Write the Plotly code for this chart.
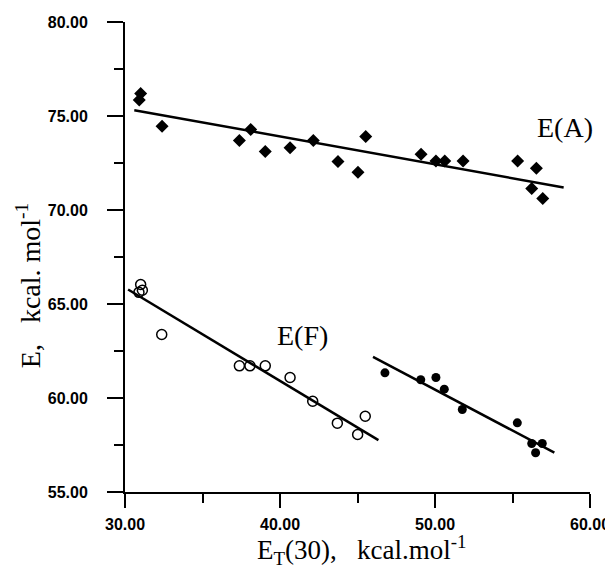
import plotly.graph_objects as go

# E(A) data (filled diamonds)
a_x = [30.92, 31.01, 32.39, 37.38, 38.11, 39.05, 40.65, 42.15, 43.74, 45.03, 45.53,
       49.10, 50.06, 50.63, 51.81, 55.33, 56.54, 56.24, 56.95]
a_y = [75.85, 76.20, 74.46, 73.70, 74.28, 73.11, 73.31, 73.70, 72.58, 72.01, 73.91,
       72.97, 72.60, 72.60, 72.60, 72.60, 72.22, 71.14, 70.61]
a_line_x = [30.6, 58.3]
a_line_y = [75.31, 71.20]

# E(F) data, open circles
f1_x = [31.01, 31.12, 30.90, 32.37, 37.38, 38.06, 39.05, 40.65, 42.11, 43.70, 45.01, 45.50]
f1_y = [66.04, 65.73, 65.62, 63.38, 61.71, 61.71, 61.71, 61.09, 59.83, 58.66, 58.06, 59.03]
f1_line_x = [30.2, 46.35]
f1_line_y = [65.77, 57.76]

# E(F) data, filled circles
f2_x = [46.77, 49.08, 50.06, 50.60, 51.76, 55.31, 56.24, 56.92, 56.49]
f2_y = [61.34, 60.97, 61.09, 60.47, 59.39, 58.68, 57.58, 57.58, 57.09]
f2_line_x = [46.0, 57.7]
f2_line_y = [62.19, 57.09]

x_ticks = [30, 40, 50, 60]
y_ticks = [55, 60, 65, 70, 75, 80]

serif = "Liberation Serif, Times New Roman, serif"
sans = "Liberation Sans, Arial, sans-serif"

fig = go.Figure()
line_style = dict(color="black", width=2.5)
fig.add_trace(go.Scatter(x=a_line_x, y=a_line_y, mode="lines", line=line_style, showlegend=False))
fig.add_trace(go.Scatter(x=f1_line_x, y=f1_line_y, mode="lines", line=line_style, showlegend=False))
fig.add_trace(go.Scatter(x=f2_line_x, y=f2_line_y, mode="lines", line=line_style, showlegend=False))

fig.add_trace(go.Scatter(x=a_x, y=a_y, mode="markers", showlegend=False,
                         marker=dict(symbol="diamond", size=10, color="black")))
fig.add_trace(go.Scatter(x=f1_x, y=f1_y, mode="markers", showlegend=False,
                         marker=dict(symbol="circle-open", size=10, color="black",
                                     line=dict(width=1.5, color="black"))))
fig.add_trace(go.Scatter(x=f2_x, y=f2_y, mode="markers", showlegend=False,
                         marker=dict(symbol="circle", size=9, color="black")))

fig.add_annotation(x=58.39, y=74.39, text="E(A)", showarrow=False,
                   font=dict(family=serif, size=28, color="black"))
fig.add_annotation(x=41.42, y=63.32, text="E(F)", showarrow=False,
                   font=dict(family=serif, size=28, color="black"))

# axis titles as positioned annotations
fig.add_annotation(xref="paper", yref="paper", x=0.5097, y=-0.124,
                   xanchor="center", yanchor="middle", showarrow=False,
                   text="E<sub>T</sub>(30),\u00a0\u00a0\u00a0kcal.mol<sup>-1</sup>",
                   font=dict(family=serif, size=27, color="black"))
fig.add_annotation(xref="paper", yref="paper", x=-0.2086, y=0.44,
                   xanchor="center", yanchor="middle", showarrow=False, textangle=-90,
                   text="E,\u00a0\u00a0\u00a0kcal.\u00a0mol<sup>-1</sup>",
                   font=dict(family=serif, size=28, color="black"))

# page body adds an 8px offset; compensate so the plot area lands at x 125-590, y 22-492
fig.update_layout(
    width=605, height=560,
    margin=dict(l=117, r=23, t=14, b=75.5),
    plot_bgcolor="white", paper_bgcolor="white",
)
fig.update_xaxes(
    range=[30, 60], tickvals=x_ticks, tickformat=".2f", automargin=False,
    showgrid=False, zeroline=False, showline=True, linecolor="black", linewidth=2,
    ticks="outside", ticklen=14, tickwidth=2, tickcolor="black", ticklabelstandoff=3,
    tickfont=dict(family=sans, size=16, color="black", weight="bold"),
    minor=dict(ticks="outside", ticklen=9, tickwidth=2, tickcolor="black", dtick=5, showgrid=False),
)
fig.update_yaxes(
    range=[55, 80], tickvals=y_ticks, tickformat=".2f", automargin=False,
    showgrid=False, zeroline=False, showline=True, linecolor="black", linewidth=2,
    ticks="outside", ticklen=16, tickwidth=2, tickcolor="black", ticklabelstandoff=16,
    tickfont=dict(family=sans, size=16, color="black", weight="bold"),
    minor=dict(ticks="outside", ticklen=9, tickwidth=2, tickcolor="black", dtick=2.5, showgrid=False),
)

fig.write_html("out.html")
